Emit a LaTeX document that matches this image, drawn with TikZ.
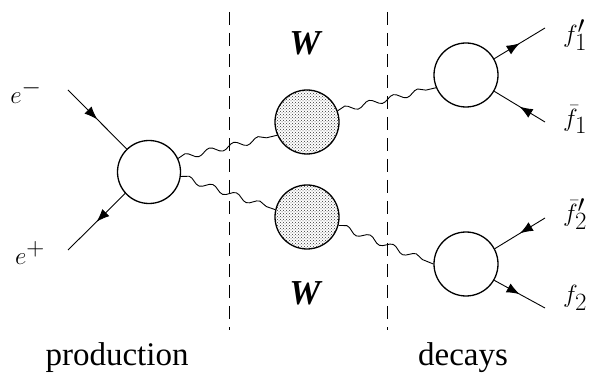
\documentclass[tikz,border=0pt]{standalone}
\usepackage{fontspec}
\setmainfont{Liberation Serif}
\usetikzlibrary{decorations.pathmorphing,decorations.markings,arrows.meta,patterns}
\begin{document}
\begin{tikzpicture}[x=1pt,y=-1pt,
  lbl/.style={font=\fontsize{33}{36}\selectfont, inner sep=0pt},
  wlbl/.style={font=\fontsize{35}{38}\selectfont\bfseries\itshape, inner sep=0pt},
  vtx/.style={circle,draw,line width=1.3pt,minimum size=63pt,inner sep=0pt},
  blob/.style={vtx, minimum size=64pt, pattern=crosshatch dots, pattern color=black!80},
  fermion/.style={line width=0.9pt, postaction={decorate},
    decoration={markings, mark=at position 0.5 with {\arrow{Latex[length=13pt,width=10pt]}}}},
  boson/.style={line width=0.9pt, decorate,
    decoration={snake, segment length=25pt, amplitude=3pt}},
  cut/.style={line width=1pt, dash pattern=on 13pt off 8pt}]
\useasboundingbox (0,0) rectangle (592,374);
% vertices
\node[vtx] (L) at (149,172) {};
\node[blob] (U) at (307,122) {};
\node[blob] (D) at (307,217) {};
\node[vtx, minimum size=64pt] (R1) at (466,75) {};
\node[vtx, minimum size=64pt] (R2) at (466,264) {};
% cuts
\coordinate (c1t) at (229,12); \coordinate (c1b) at (229,330);
\coordinate (c2t) at (387,12); \coordinate (c2b) at (387,330);
\draw[cut] (c1t) -- (c1b);
\draw[cut] (c2t) -- (c2b);
% external ends
\coordinate (em) at (68,90);
\coordinate (ep) at (68,250);
\coordinate (f1p) at (545,28);
\coordinate (f1b) at (545,122);
\coordinate (f2p) at (545,218);
\coordinate (f2) at (545,308);
% fermion lines
\draw[fermion] (em) -- (L.134);
\draw[fermion] (L.222) -- (ep);
\draw[fermion] (R1.30) -- (f1p);
\draw[fermion] (f1b) -- (R1.-30);
\draw[fermion] (f2p) -- (R2.28);
\draw[fermion] (R2.-30) -- (f2);
% boson lines
\draw[boson] (L.25) -- (U.204);
\draw[boson] (L.-8) -- (D.167);
\draw[boson] (U.20) -- (R1.203);
\draw[boson] (D.-15) -- (R2.180);
% labels
\node[lbl] (lem) at (26,92) {$e^{-}$};
\node[lbl] (lep) at (30,253) {$e^{+}$};
\node[lbl] (lf1p) at (575,35) {$f'_{1}$};
\node[lbl] (lf1b) at (575,120) {$\bar{f}_{1}$};
\node[lbl] (lf2p) at (575,214) {$\bar{f}'_{2}$};
\node[lbl] (lf2) at (575,298) {$f_{2}$};
\node[wlbl] (w1) at (305,43) {W};
\node[wlbl] (w2) at (305,293) {W};
\node[lbl, anchor=base] (prod) at (117,365) {production};
\node[lbl, anchor=base] (dec) at (463,365) {decays};
\end{tikzpicture}
\end{document}
